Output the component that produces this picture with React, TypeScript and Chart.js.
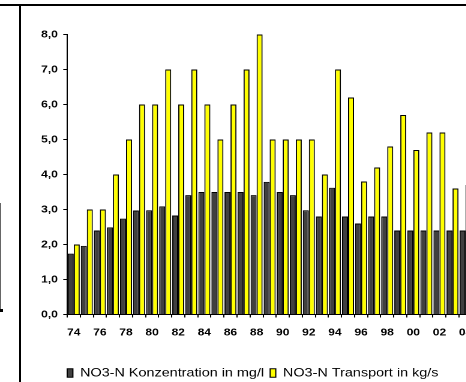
import React, { useEffect, useRef } from "react";
import { Chart, registerables } from "chart.js";

Chart.register(...registerables);

const years: string[] = [
  "74", "75", "76", "77", "78", "79", "80", "81", "82", "83",
  "84", "85", "86", "87", "88", "89", "90", "91", "92", "93",
  "94", "95", "96", "97", "98", "99", "00", "01", "02", "03", "04",
];

const konzentration: number[] = [
  1.74, 1.96, 2.4, 2.49, 2.74, 2.97, 2.98, 3.09, 2.83, 3.41,
  3.5, 3.5, 3.5, 3.5, 3.41, 3.79, 3.5, 3.41, 2.98, 2.8,
  3.62, 2.8, 2.6, 2.8, 2.8, 2.4, 2.4, 2.4, 2.4, 2.4, 2.4,
];

const transport: number[] = [
  2.0, 3.0, 3.0, 4.0, 5.0, 6.0, 6.0, 7.0, 6.0, 7.0,
  6.0, 5.0, 6.0, 7.0, 8.0, 5.0, 5.0, 5.0, 5.0, 4.0,
  7.0, 6.2, 3.8, 4.2, 4.8, 5.7, 4.7, 5.2, 5.2, 3.6, 3.7,
];

const seriesLabels: string[] = [
  "NO3-N Konzentration in mg/l",
  "NO3-N Transport in kg/s",
];

const SX = 1.2;
const W = 420;
const H = 389.5;
const FONT = "'Liberation Sans', Arial, sans-serif";

export default function App() {
  const ref = useRef<HTMLCanvasElement | null>(null);

  useEffect(() => {
    if (!ref.current) return;
    const chart = new Chart(ref.current, {
      type: "bar",
      data: {
        labels: years,
        datasets: [
          {
            label: seriesLabels[0],
            data: konzentration,
            backgroundColor: "#404040",
            borderColor: "#000000",
            borderWidth: 1,
            categoryPercentage: 0.92,
            barPercentage: 1.0,
          },
          {
            label: seriesLabels[1],
            data: transport,
            backgroundColor: "#ffff00",
            borderColor: "#000000",
            borderWidth: 1,
            categoryPercentage: 0.92,
            barPercentage: 1.0,
          },
        ],
      },
      options: {
        responsive: false,
        animation: false,
        devicePixelRatio: 2,
        layout: {
          padding: { left: 28, right: W - 393.4, top: 34.5, bottom: 0 },
        },
        plugins: {
          title: { display: false },
          tooltip: { enabled: false },
          legend: {
            display: true,
            position: "bottom",
            labels: {
              boxWidth: 4.7,
              boxHeight: 8.4,
              padding: 5,
              color: "#000",
              font: { family: FONT, size: 12 },
            },
          },
        },
        scales: {
          x: {
            afterFit: (scale: any) => {
              scale.height = 47.5;
            },
            grid: {
              display: true,
              drawOnChartArea: false,
              drawTicks: true,
              tickLength: 3,
              color: "#000",
              offset: true,
            },
            border: { display: true, color: "#000", width: 1 },
            ticks: {
              autoSkip: false,
              maxRotation: 0,
              minRotation: 0,
              padding: 9,
              color: "#000",
              font: { family: FONT, size: 10, weight: "bold" },
              callback: (_v: any, i: number) => (i % 2 === 0 ? years[i] : ""),
            },
          },
          y: {
            min: 0,
            max: 8,
            afterFit: (scale: any) => {
              scale.width = 28;
            },
            grid: {
              display: true,
              drawOnChartArea: false,
              drawTicks: true,
              tickLength: 3.3,
              color: "#000",
            },
            border: { display: true, color: "#000", width: 1 },
            ticks: {
              stepSize: 1,
              padding: 4.5,
              color: "#000",
              font: { family: FONT, size: 10, weight: "bold" },
              callback: (v: any) => Number(v).toFixed(1).replace(".", ","),
            },
          },
        },
      },
    });
    return () => chart.destroy();
  }, []);

  return (
    <div
      style={{
        position: "fixed",
        left: 0,
        top: 0,
        width: 466,
        height: 382,
        overflow: "hidden",
        background: "#fff",
      }}
    >
      <div
        style={{
          position: "absolute",
          left: 0,
          top: 0,
          width: W,
          height: H,
          transform: `scaleX(${SX})`,
          transformOrigin: "0 0",
        }}
      >
        <canvas ref={ref} width={W} height={H} style={{ display: "block" }} />
      </div>
      {/* frame of the chart */}
      <div style={{ position: "absolute", left: 0, top: 4, width: 466, height: 2, background: "#000" }} />
      <div style={{ position: "absolute", left: 19, top: 4, width: 2, height: 378, background: "#000" }} />
      {/* edge of neighbouring chart */}
      <div style={{ position: "absolute", left: 0, top: 203, width: 1, height: 108, background: "#666" }} />
      <div style={{ position: "absolute", left: 0, top: 309, width: 3, height: 3, background: "#000" }} />
    </div>
  );
}
